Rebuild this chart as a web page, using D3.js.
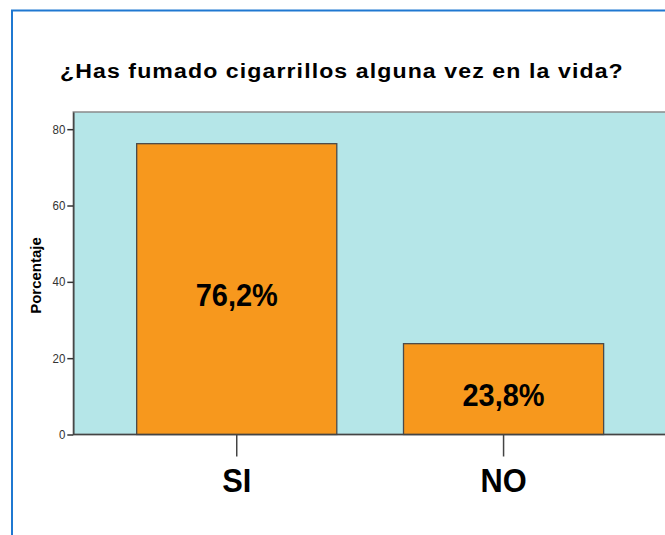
<!DOCTYPE html>
<html>
<head>
<meta charset="utf-8">
<script src="https://cdn.jsdelivr.net/npm/d3@7"></script>
<style>
  html, body { margin: 0; padding: 0; background: #fff; }
  svg { display: block; font-family: Arial, "Liberation Sans", sans-serif; }
</style>
</head>
<body>
<svg id="chart" width="665" height="535"></svg>
<script>
// chart data
var categories = ['SI', 'NO']
var percents = [76.2, 23.8]
var valueLabels = ['76,2%', '23,8%']
var yTicks = [0, 20, 40, 60, 80]
var title = '¿Has fumado cigarrillos alguna vez en la vida?'
var yTitle = 'Porcentaje'

var svg = d3.select('#chart'),
  sx = 0.92 // glyphs in the picture are squeezed a bit horizontally

var plot = { left: 73.3, right: 667, top: 112, bottom: 434.5 }

var x = d3
  .scaleBand()
  .domain(categories)
  .range([plot.left, plot.right])
  .paddingInner(0.25)
  .paddingOuter(0.2375)

var y = d3.scaleLinear().domain([0, 84.5]).range([plot.bottom, plot.top])

// outer blue frame
svg
  .append('rect')
  .attr('x', 12)
  .attr('y', 10.5)
  .attr('width', 720)
  .attr('height', 620)
  .attr('fill', 'none')
  .attr('stroke', '#1f78d1')
  .attr('stroke-width', 2)

// title (wide, a little spaced)
svg
  .append('text')
  .attr('transform', 'translate(60,78) scale(1.1,1)')
  .attr('font-size', 21)
  .attr('font-weight', 'bold')
  .attr('letter-spacing', 1)
  .attr('fill', '#000')
  .text(title)

// plot background
svg
  .append('rect')
  .attr('x', plot.left)
  .attr('y', plot.top)
  .attr('width', plot.right - plot.left)
  .attr('height', plot.bottom - plot.top)
  .attr('fill', '#b5e6e8')
  .attr('stroke', '#8a8a8a')
  .attr('stroke-width', 1.5)

// bars
svg
  .selectAll('.bar')
  .data(percents)
  .enter()
  .append('rect')
  .attr('class', 'bar')
  .attr('x', function (d, i) {
    return x(categories[i])
  })
  .attr('y', function (d) {
    return y(d)
  })
  .attr('width', x.bandwidth())
  .attr('height', function (d) {
    return plot.bottom - y(d)
  })
  .attr('fill', '#f7981d')
  .attr('stroke', '#4a4a4a')
  .attr('stroke-width', 1.3)

// value labels inside bars
svg
  .selectAll('.bartext')
  .data(percents)
  .enter()
  .append('text')
  .attr('class', 'bartext')
  .attr('transform', function (d, i) {
    var cx = x(categories[i]) + x.bandwidth() / 2
    return 'translate(' + cx + ',' + (y(d / 2) + 17) + ') scale(' + sx + ',1)'
  })
  .attr('text-anchor', 'middle')
  .attr('font-size', 31.5)
  .attr('font-weight', 'bold')
  .attr('fill', '#000')
  .text(function (d, i) {
    return valueLabels[i]
  })

// y axis
var yAxis = svg
  .append('g')
  .attr('transform', 'translate(' + plot.left + ',0)')
  .call(
    d3.axisLeft(y).tickValues(yTicks).tickSize(6).tickSizeOuter(0).tickPadding(2)
  )

yAxis.select('.domain').attr('stroke', '#444').attr('stroke-width', 1.5)
yAxis.selectAll('.tick line').attr('stroke', '#333').attr('stroke-width', 1.5)
yAxis
  .selectAll('.tick text')
  .attr('font-size', 12.5)
  .attr('font-family', 'Arial, "Liberation Sans", sans-serif')
  .attr('fill', '#333')
  .attr('transform', 'scale(' + sx + ',1)')
  .attr('x', -8 / sx)

// x axis
var xAxis = svg
  .append('g')
  .attr('transform', 'translate(0,' + plot.bottom + ')')
  .call(d3.axisBottom(x).tickSize(22).tickSizeOuter(0).tickPadding(0))

xAxis.select('.domain').remove()
xAxis.selectAll('.tick line').attr('stroke', '#444').attr('stroke-width', 1.5)
xAxis.selectAll('.tick text').remove()

xAxis
  .append('line')
  .attr('x1', plot.left)
  .attr('x2', plot.right)
  .attr('stroke', '#444')
  .attr('stroke-width', 1.5)

svg
  .selectAll('.xlabel')
  .data(categories)
  .enter()
  .append('text')
  .attr('class', 'xlabel')
  .attr('transform', function (d) {
    return (
      'translate(' + (x(d) + x.bandwidth() / 2) + ',492) scale(' + sx + ',1)'
    )
  })
  .attr('text-anchor', 'middle')
  .attr('font-size', 33.5)
  .attr('font-weight', 'bold')
  .attr('fill', '#000')
  .text(function (d) {
    return d
  })

// y axis title
svg
  .append('text')
  .attr('transform', 'translate(41,275.5) scale(' + sx + ',1) rotate(-90)')
  .attr('text-anchor', 'middle')
  .attr('font-size', 15)
  .attr('font-weight', 'bold')
  .attr('fill', '#000')
  .text(yTitle)
</script>
</body>
</html>
